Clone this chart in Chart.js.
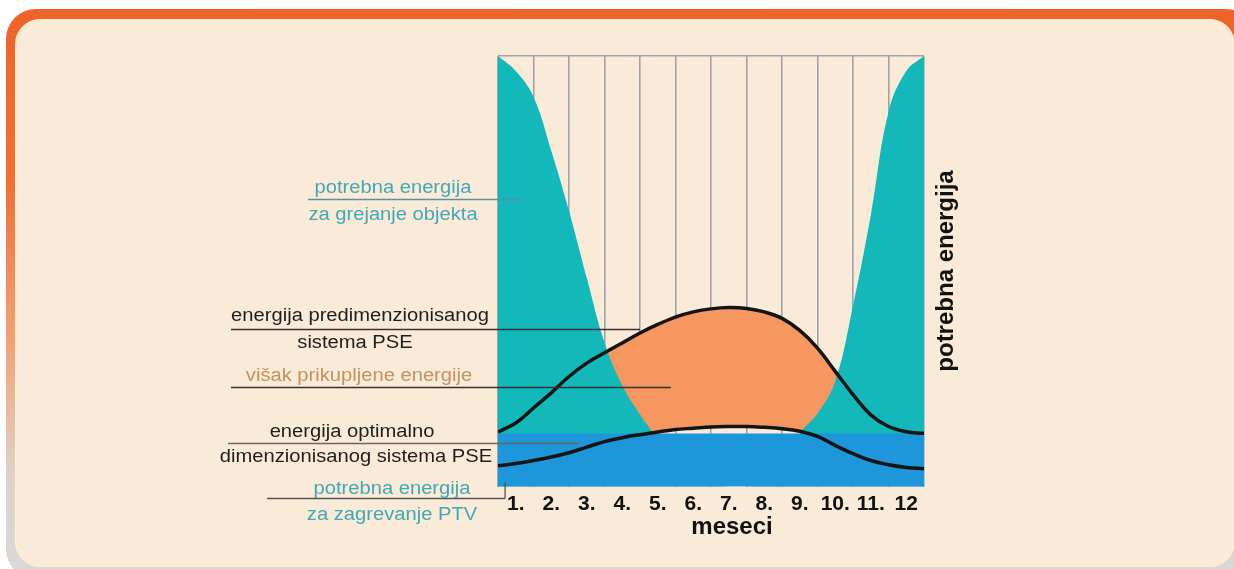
<!DOCTYPE html>
<html>
<head>
<meta charset="utf-8">
<script src="https://cdn.jsdelivr.net/npm/chart.js@4"></script>
<style>
  html, body { margin: 0; padding: 0; background: #fff; overflow: hidden; }
  #frame {
    position: absolute; left: 6px; top: 9px; width: 1250px; height: 570px;
    border-radius: 30px;
    background: linear-gradient(180deg, #ef622b 0%, #f06f35 30%, #f2a47e 60%, #ddd2cc 82%, #d9d9d9 100%);
  }
  #panel {
    position: absolute; left: 15px; top: 19px; width: 1218px; height: 546px;
    border-radius: 25px; background: #faebd8; border: 1.5px solid #fff3c6;
  }
  #myChart { position: absolute; left: 0; top: 0; }
</style>
</head>
<body>
<div id="frame"></div>
<div id="panel"></div>
<canvas id="myChart" width="1234" height="569"></canvas>
<script>
// month labels under the plot, grid lines on month edges
const months = ['1.', '2.', '3.', '4.', '5.', '6.', '7.', '8.', '9.', '10.', '11.', '12']
const monthEdges = [0, 1, 2, 3, 4, 5, 6, 7, 8, 9, 10, 11, 12]

// readings every half month (0 = start of January, 12 = end of December)
const monthPos = [0, 0.5, 1, 1.5, 2, 2.5, 3, 3.5, 4, 4.5, 5, 5.5, 6, 6.5, 7, 7.5, 8, 8.5, 9, 9.5, 10, 10.5, 11, 11.5, 12]

// potrebna energija za grejanje objekta
const heating = [100, 96.5, 90.5, 78, 64, 48.5, 33.5, 23.5, 16.8, 11.2, 6.5, 3, 1, 0, 0, 1, 5, 12.4, 17, 24.5, 42, 63, 87, 96.5, 100]
// potrebna energija za zagrevanje PTV
const ptv = [12.4, 12.4, 12.4, 12.4, 12.4, 12.4, 12.4, 12.4, 12.4, 12.4, 12.4, 12.4, 12.4, 12.4, 12.4, 12.4, 12.4, 12.4, 12.4, 12.4, 12.4, 12.4, 12.4, 12.4, 12.4]
// energija predimenzionisanog sistema PSE
const oversized = [12.7, 14.8, 18.3, 21.8, 25.6, 28.7, 31.1, 33.4, 35.7, 37.7, 39.4, 40.6, 41.3, 41.6, 41.4, 40.6, 39.1, 36.3, 32.2, 26.8, 21.4, 16.7, 14.0, 12.8, 12.4]
// energija optimalno dimenzionisanog sistema PSE
const optimal = [4.9, 5.4, 6.1, 6.9, 7.9, 9.2, 10.5, 11.4, 12.1, 12.7, 13.3, 13.6, 13.9, 14.0, 14.0, 13.8, 13.5, 12.9, 11.7, 9.6, 7.7, 6.1, 5.1, 4.5, 4.2]

const toPoints = (arr) => arr.map((v, i) => ({ x: monthPos[i], y: v }))

const TEAL = '#13b8ba'
const BLUE = '#1e96da'
const ORANGE = '#f5975f'
const LINE = '#141414'
const GRID = '#9ea4ae'
const FONT = '"Liberation Sans", Arial, sans-serif'

const area = (label, arr, color, fill) => ({
    label: label,
    data: toPoints(arr),
    backgroundColor: color,
    borderColor: 'transparent',
    borderWidth: 0,
    pointRadius: 0,
    fill: fill,
    tension: 0.4
})

const curve = (label, arr) => ({
    label: label,
    data: toPoints(arr),
    borderColor: LINE,
    borderWidth: 3.5,
    pointRadius: 0,
    fill: false,
    tension: 0.4
})

// labels with leader lines on the left, axis captions
const notes = {
    id: 'notes',
    afterDatasetsDraw(chart) {
        const { ctx } = chart
        const x = chart.scales.x
        const y = chart.scales.y
        ctx.save()

        const lead = (x0, xv, yv, color) => {
            const py = Math.round(y.getPixelForValue(yv)) + 0.5
            ctx.strokeStyle = color
            ctx.lineWidth = 1.3
            ctx.beginPath()
            ctx.moveTo(x0, py)
            ctx.lineTo(x.getPixelForValue(xv), py)
            ctx.stroke()
            return py
        }
        lead(308, 0.68, 66.8, '#5d8f9c')
        lead(231, 4.0, 36.6, '#333')
        lead(231, 4.87, 23.2, '#333')
        lead(228, 2.3, 10.2, '#666')
        const py = lead(267, 0.2, -2.6, '#555')
        ctx.beginPath()
        ctx.moveTo(x.getPixelForValue(0.2), py)
        ctx.lineTo(x.getPixelForValue(0.2), y.getPixelForValue(1))
        ctx.stroke()

        ctx.textAlign = 'center'
        ctx.textBaseline = 'middle'
        // the original lettering is a little wider than it is tall
        const text = (s, cx, cy, color) => {
            ctx.save()
            ctx.translate(cx, cy)
            ctx.scale(1.12, 1)
            ctx.font = '18px ' + FONT
            ctx.fillStyle = color
            ctx.fillText(s, 0, 0)
            ctx.restore()
        }
        text('potrebna energija', 393, 188, '#42a8b6')
        text('za grejanje objekta', 393, 215, '#42a8b6')
        text('energija predimenzionisanog', 360, 316, '#1e1e1e')
        text('sistema PSE', 355, 343, '#1e1e1e')
        text('višak prikupljene energije', 359, 376, '#c4925e')
        text('energija optimalno', 352, 432, '#1e1e1e')
        text('dimenzionisanog sistema PSE', 356, 457, '#1e1e1e')
        text('potrebna energija', 392, 489, '#42a8b6')
        text('za zagrevanje PTV', 392, 515, '#42a8b6')

        ctx.font = 'bold 24px ' + FONT
        ctx.fillStyle = '#111'
        ctx.fillText('meseci', 732, 527)

        ctx.translate(946, 271)
        ctx.rotate(-Math.PI / 2)
        ctx.font = 'bold 24px ' + FONT
        ctx.fillText('potrebna energija', 0, 0)
        ctx.restore()
    }
}

const config = {
    type: 'line',
    data: {
        datasets: [
            curve('energija optimalno dimenzionisanog sistema PSE', optimal),
            curve('energija predimenzionisanog sistema PSE', oversized),
            area('potrebna energija za zagrevanje PTV', ptv, BLUE, 'origin'),
            area('potrebna energija za grejanje objekta', heating, TEAL, 'origin'),
            area('višak prikupljene energije', oversized, ORANGE, { target: 0 })
        ]
    },
    options: {
        responsive: false,
        animation: false,
        layout: { padding: { left: 498, right: 310, top: 56, bottom: 47 } },
        plugins: {
            legend: { display: false },
            tooltip: { enabled: false }
        },
        scales: {
            x: {
                type: 'linear',
                min: 0,
                max: 12,
                afterBuildTicks: (axis) => { axis.ticks = monthEdges.map((v) => ({ value: v })) },
                grid: { color: GRID, lineWidth: 1.6, drawTicks: false },
                border: { display: false },
                ticks: { display: false }
            },
            months: {
                type: 'category',
                position: 'bottom',
                labels: months,
                offset: true,
                grid: { display: false, drawTicks: false },
                border: { display: false },
                ticks: {
                    autoSkip: false,
                    maxRotation: 0,
                    padding: 5,
                    color: '#111',
                    font: { family: FONT, size: 21, weight: 'bold' }
                }
            },
            y: {
                min: 0,
                max: 100,
                afterBuildTicks: (axis) => { axis.ticks = [{ value: 100 }] },
                grid: { color: GRID, lineWidth: 1.6, drawTicks: false },
                border: { display: false },
                ticks: { display: false }
            }
        }
    },
    plugins: [notes]
}

const chart = new Chart(document.querySelector('#myChart'), config)
</script>
</body>
</html>
